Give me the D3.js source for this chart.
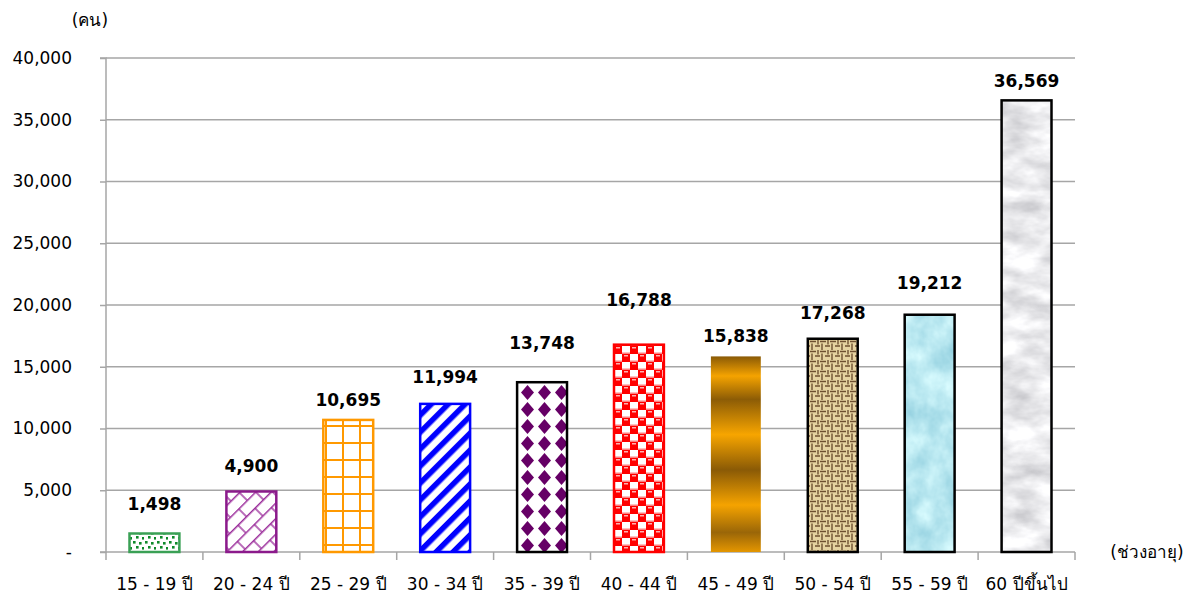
<!DOCTYPE html>
<meta charset="utf-8">
<style>
body { margin: 0; background: #fff; font-family: "DejaVu Sans", "Noto Sans", sans-serif; }
.grid line { stroke: #a6a6a6; stroke-width: 1.5; }
.axis path, .axis line { stroke: #a6a6a6; stroke-width: 1.5; fill: none; }
.axis text { fill: #000; font-size: 17px; font-family: "DejaVu Sans", "Noto Sans", sans-serif; }
</style>
<body>
<script src="https://d3js.org/d3.v7.min.js"></script>
<script>
// data
var ageGroups = ["15 - 19 ปี", "20 - 24 ปี", "25 - 29 ปี", "30 - 34 ปี", "35 - 39 ปี",
                 "40 - 44 ปี", "45 - 49 ปี", "50 - 54 ปี", "55 - 59 ปี", "60 ปีขึ้นไป"];
var persons = [1498, 4900, 10695, 11994, 13748, 16788, 15838, 17268, 19212, 36569];
var yTicks = [0, 5000, 10000, 15000, 20000, 25000, 30000, 35000, 40000];

// label lift above bar top (px), labels were hand placed in the original
var labelLift = [23, 19, 14, 21, 33, 39, 14, 20, 26, 13];

var W = 1197, H = 601;
var plotLeft = 106, plotRight = 1075, plotTop = 58, plotBottom = 552;

var svg = d3.select("body").append("svg")
    .attr("width", W).attr("height", H);

var defs = svg.append("defs");

// 1: green dots
var p1 = defs.append("pattern").attr("id", "p1").attr("patternUnits", "userSpaceOnUse")
    .attr("width", 12).attr("height", 10);
p1.append("rect").attr("width", 12).attr("height", 10).attr("fill", "#fff");
[[1,1],[7,2],[4,6],[10,7]].forEach(function(d){
  p1.append("rect").attr("x", d[0]).attr("y", d[1]).attr("width", 2.6).attr("height", 2.6).attr("fill", "#0f8a2a");
});

// 2: purple diagonal brick
var p2 = defs.append("pattern").attr("id", "p2").attr("patternUnits", "userSpaceOnUse")
    .attr("width", 24).attr("height", 22).attr("patternTransform", "rotate(-45)");
p2.append("rect").attr("width", 24).attr("height", 22).attr("fill", "#fff");
p2.append("path").attr("d", "M0,0.7 H24 M0,11.7 H24 M1,0 V11 M13,11 V22")
  .attr("stroke", "#9b2d9b").attr("stroke-width", 1.4).attr("fill", "none");

// 3: orange grid
var p3 = defs.append("pattern").attr("id", "p3").attr("patternUnits", "userSpaceOnUse")
    .attr("width", 17).attr("height", 17).attr("x", 325).attr("y", 0);
p3.append("rect").attr("width", 17).attr("height", 17).attr("fill", "#fff");
p3.append("path").attr("d", "M1,0 V17 M0,1 H17").attr("stroke", "#ff9900").attr("stroke-width", 2);

// 4: blue diagonal stripes
var p4 = defs.append("pattern").attr("id", "p4").attr("patternUnits", "userSpaceOnUse")
    .attr("width", 12).attr("height", 12).attr("patternTransform", "rotate(45)");
p4.append("rect").attr("width", 12).attr("height", 12).attr("fill", "#fff");
p4.append("rect").attr("width", 5.5).attr("height", 12).attr("fill", "#0000ff");

// 5: purple diamonds
var p5 = defs.append("pattern").attr("id", "p5").attr("patternUnits", "userSpaceOnUse")
    .attr("width", 17).attr("height", 17).attr("x", 519).attr("y", 384);
p5.append("rect").attr("width", 17).attr("height", 17).attr("fill", "#fff");
p5.append("path").attr("d", "M8.5,1 L15,8.5 L8.5,16 L2,8.5 Z").attr("fill", "#660066");

// 6: red checks
var p6 = defs.append("pattern").attr("id", "p6").attr("patternUnits", "userSpaceOnUse")
    .attr("width", 16).attr("height", 16).attr("x", 614).attr("y", 346);
p6.append("rect").attr("width", 16).attr("height", 16).attr("fill", "#ff0000");
p6.append("rect").attr("x", 8).attr("y", 0).attr("width", 8).attr("height", 8).attr("fill", "#fff");
p6.append("rect").attr("x", 0).attr("y", 8).attr("width", 8).attr("height", 8).attr("fill", "#fff");
p6.append("rect").attr("x", 2).attr("y", 1).attr("width", 4).attr("height", 1.5).attr("fill", "#ffb0b0");
p6.append("rect").attr("x", 10).attr("y", 9).attr("width", 4).attr("height", 1.5).attr("fill", "#ffb0b0");
p6.append("rect").attr("x", 8).attr("y", 6.5).attr("width", 8).attr("height", 1.5).attr("fill", "#ff8080");
p6.append("rect").attr("x", 0).attr("y", 14.5).attr("width", 8).attr("height", 1.5).attr("fill", "#ff8080");

// 7: gold bands
var g7 = defs.append("linearGradient").attr("id", "g7")
    .attr("x1", 0).attr("y1", 0).attr("x2", 0).attr("y2", 1);
[[0, "#8a5a06"], [0.1, "#f5a300"], [0.22, "#8c5c06"], [0.4, "#f7a500"], [0.58, "#8a5a06"],
 [0.76, "#f5a300"], [0.9, "#9a6608"], [1, "#e49600"]].forEach(function(s){
  g7.append("stop").attr("offset", s[0]).attr("stop-color", s[1]);
});

// 8: burlap
var p8 = defs.append("pattern").attr("id", "p8").attr("patternUnits", "userSpaceOnUse")
    .attr("width", 10).attr("height", 10);
p8.append("rect").attr("width", 10).attr("height", 10).attr("fill", "#e6d3a0");
p8.append("path").attr("d", "M0,1.5 H6 M2,3.5 V10 M5,6 H10 M8,0 V4.5")
  .attr("stroke", "#6e5030").attr("stroke-width", 1.4);

// 9 and 10: textures from turbulence
function texture(id, freq, seed, matrix) {
  var f = defs.append("filter").attr("id", id + "f")
    .attr("x", 0).attr("y", 0).attr("width", 1).attr("height", 1)
    .attr("color-interpolation-filters", "sRGB");
  f.append("feTurbulence").attr("type", "fractalNoise").attr("baseFrequency", freq)
    .attr("numOctaves", 4).attr("seed", seed);
  f.append("feColorMatrix").attr("type", "matrix").attr("values", matrix);
  var p = defs.append("pattern").attr("id", id).attr("patternUnits", "userSpaceOnUse")
    .attr("width", 120).attr("height", 601);
  p.append("rect").attr("width", 120).attr("height", 601).attr("filter", "url(#" + id + "f)");
}
texture("p9", "0.04 0.035", 3,
  "0.4 0 0 0 0.52  0.25 0 0 0 0.78  0.18 0 0 0 0.85  0 0 0 0 1");
texture("p10", "0.025 0.05", 7,
  "0.4 0 0 0 0.72  0.4 0 0 0 0.72  0.38 0 0 0 0.74  0 0 0 0 1");

var fills = ["url(#p1)", "url(#p2)", "url(#p3)", "url(#p4)", "url(#p5)",
             "url(#p6)", "url(#g7)", "url(#p8)", "url(#p9)", "url(#p10)"];
var strokes = ["#3aa055", "#8b1a8b", "#ff9900", "#0000ff", "#000",
               "#ff0000", "none", "#000", "#000", "#000"];

var x = d3.scaleBand().domain(ageGroups).range([plotLeft, plotRight]).paddingInner(0.485).paddingOuter(0.2425);
var y = d3.scaleLinear().domain([0, 40000]).range([plotBottom, plotTop]);

// grid
svg.append("g").attr("class", "grid")
  .selectAll("line").data(yTicks.slice(1)).enter().append("line")
  .attr("x1", plotLeft).attr("x2", plotRight)
  .attr("y1", function(d){ return y(d); }).attr("y2", function(d){ return y(d); });

// y axis
var yAxis = svg.append("g").attr("class", "axis")
  .attr("transform", "translate(" + plotLeft + ",0)")
  .call(d3.axisLeft(y).tickValues(yTicks).tickSize(6).tickPadding(28)
    .tickFormat(function(d){ return d === 0 ? "-" : d3.format(",")(d); }));
yAxis.select(".domain").attr("d", "M-6," + plotTop + "H0V" + plotBottom + "H-6");

// x axis
var xAxis = svg.append("g").attr("class", "axis")
  .attr("transform", "translate(0," + plotBottom + ")");
xAxis.append("line").attr("x1", plotLeft).attr("x2", plotRight).attr("y1", 0).attr("y2", 0);
xAxis.selectAll(".tk").data(d3.range(ageGroups.length + 1)).enter().append("line")
  .attr("x1", function(i){ return plotLeft + i * x.step(); })
  .attr("x2", function(i){ return plotLeft + i * x.step(); })
  .attr("y1", 0).attr("y2", 8);
xAxis.selectAll("text").data(ageGroups).enter().append("text")
  .attr("x", function(d){ return x(d) + x.bandwidth() / 2; })
  .attr("y", 38)
  .attr("text-anchor", "middle")
  .text(function(d){ return d; });

// bars
svg.selectAll(".bar").data(persons).enter().append("rect")
  .attr("class", "bar")
  .attr("x", function(d, i){ return x(ageGroups[i]); })
  .attr("width", x.bandwidth())
  .attr("y", function(d){ return y(d); })
  .attr("height", function(d){ return plotBottom - y(d); })
  .attr("fill", function(d, i){ return fills[i]; })
  .attr("stroke", function(d, i){ return strokes[i]; })
  .attr("stroke-width", 2.5);

// value labels
svg.selectAll(".val").data(persons).enter().append("text")
  .attr("class", "val")
  .attr("x", function(d, i){ return x(ageGroups[i]) + x.bandwidth() / 2; })
  .attr("y", function(d, i){ return y(d) - labelLift[i]; })
  .attr("text-anchor", "middle")
  .attr("font-size", "17px").attr("font-weight", "bold")
  .text(function(d){ return d3.format(",")(d); });

// unit labels
svg.append("text").attr("x", 90).attr("y", 26).attr("text-anchor", "middle")
  .attr("font-size", "17px").text("(คน)");
svg.append("text").attr("x", 1147).attr("y", 558).attr("text-anchor", "middle")
  .attr("font-size", "17px").text("(ช่วงอายุ)");
</script>
</body>
